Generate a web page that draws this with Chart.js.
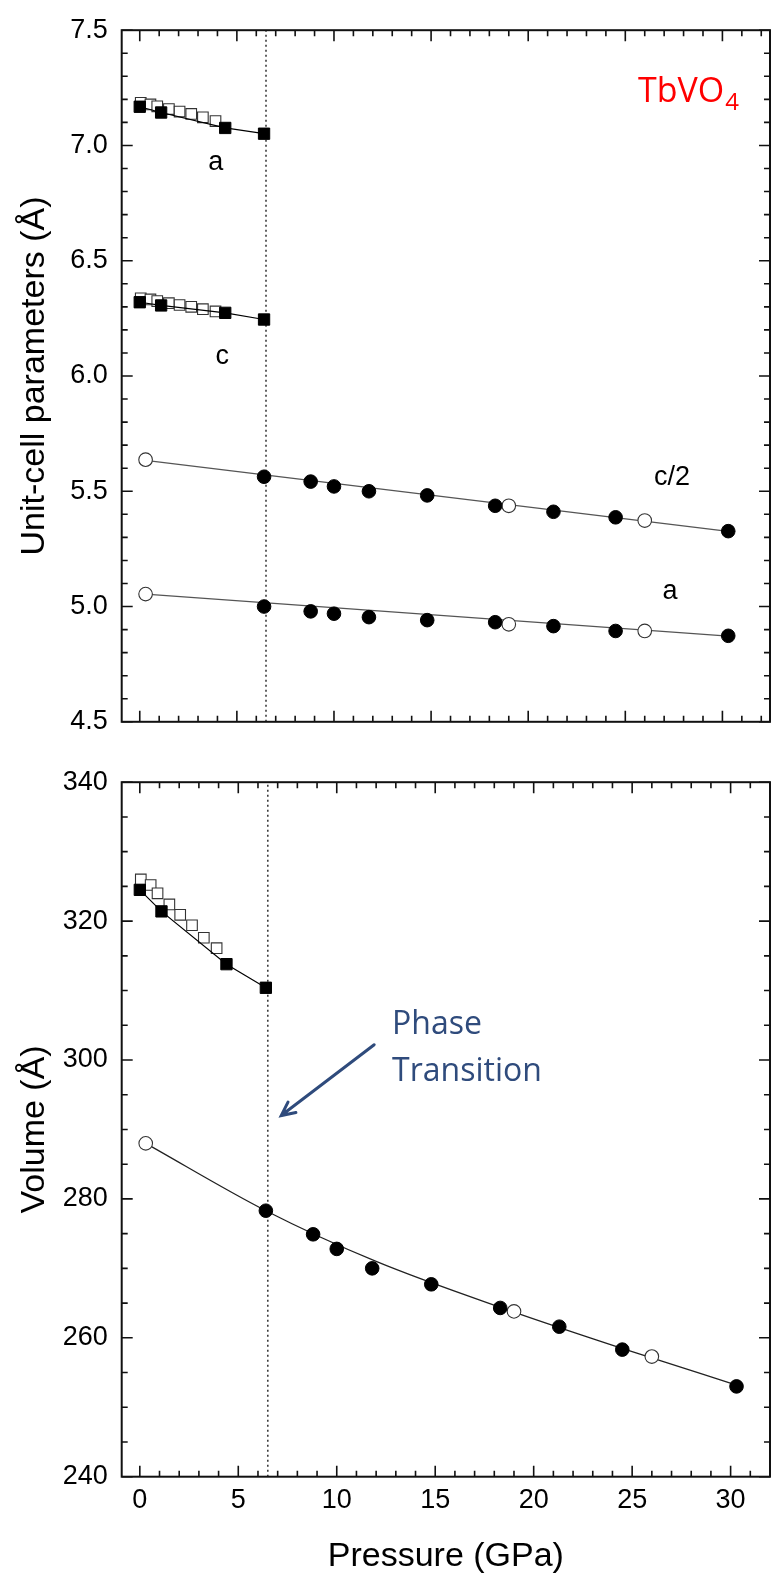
<!DOCTYPE html>
<html>
<head>
<meta charset="utf-8">
<script src="https://cdn.jsdelivr.net/npm/chart.js@4.4.1/dist/chart.umd.min.js"></script>
<style>
    html, body { margin: 0; padding: 0; background: #fff; }
    #wrap { position: relative; width: 779px; height: 1585px; }
    canvas { position: absolute; left: 0; }
    #graph1 { top: 0; }
    #graph2 { top: 752px; }
</style>
</head>
<body>
<div id="wrap">
    <canvas id="graph1" width="779" height="752"></canvas>
    <canvas id="graph2" width="779" height="833"></canvas>
</div>
<script>
// zircon phase (squares), low pressure
const pLowFilled = [0, 1.1, 4.4, 6.4];
const aLowFilled = [7.168, 7.143, 7.076, 7.051];
const cLowFilled = [6.320, 6.306, 6.274, 6.245];
const vLowFilled = [324.5, 321.4, 313.8, 310.4];

const pLowOpen = [0.05, 0.55, 0.9, 1.5, 2.05, 2.65, 3.25, 3.9];
const aLowOpen = [7.185, 7.178, 7.170, 7.158, 7.147, 7.137, 7.122, 7.106];
const cLowOpen = [6.337, 6.332, 6.325, 6.316, 6.308, 6.300, 6.290, 6.280];
const vLowOpen = [326.0, 325.2, 324.0, 322.4, 320.9, 319.4, 317.6, 316.1];

// scheelite phase (circles), high pressure
const pHighFilled = [6.4, 8.8, 10.0, 11.8, 14.8, 18.3, 21.3, 24.5, 30.3];
const c2HighFilled = [5.563, 5.542, 5.521, 5.500, 5.482, 5.437, 5.411, 5.387, 5.327];
const aHighFilled = [5.000, 4.979, 4.969, 4.954, 4.941, 4.932, 4.915, 4.894, 4.873];
const vHighFilled = [278.3, 274.9, 272.8, 270.0, 267.7, 264.3, 261.6, 258.3, 253.0];

const pHighOpen = [0.3, 19.0, 26.0];
const c2HighOpen = [5.637, 5.437, 5.373];
const aHighOpen = [5.054, 4.923, 4.894];
const vHighOpen = [288.0, 263.8, 257.3];

// fitted curves
const pFitLin = [0.3, 30.3];
const c2Fit = [5.634, 5.326];
const aFit = [5.054, 4.872];
const pFitV = [0.3, 6.4, 12, 18.6, 25, 30.3];
const vFit = [288.0, 278.3, 271.0, 264.1, 258.0, 253.2];

const transitionP = 6.5;

const fontOrigin = "'Liberation Sans', Arial, sans-serif";
const fontNote = "'Open Sans', 'Noto Sans', sans-serif";

function pts(xs, ys) {
    return xs.map((x, i) => ({ x: x, y: ys[i] }));
}

function filledSet(xs, ys, style, withLine) {
    return {
        data: pts(xs, ys),
        pointStyle: style,
        pointRadius: style === 'rect' ? 8 : 6.8,
        pointBackgroundColor: '#000',
        pointBorderColor: '#000',
        pointBorderWidth: 1,
        borderColor: '#000',
        borderWidth: 1.2,
        showLine: withLine,
        tension: 0
    };
}

function openSet(xs, ys, style) {
    return {
        data: pts(xs, ys),
        pointStyle: style,
        pointRadius: style === 'rect' ? 7.5 : 6.8,
        pointBackgroundColor: '#fff',
        pointBorderColor: '#333',
        pointBorderWidth: 1.1,
        showLine: false
    };
}

function fitSet(xs, ys, color, smooth) {
    return {
        data: pts(xs, ys),
        pointRadius: 0,
        borderColor: color,
        borderWidth: 1.3,
        showLine: true,
        tension: 0,
        cubicInterpolationMode: smooth ? 'monotone' : 'default'
    };
}

function dottedSet(yMin, yMax) {
    return {
        data: [{ x: transitionP, y: yMin }, { x: transitionP, y: yMax }],
        pointRadius: 0,
        borderColor: '#222',
        borderWidth: 1.4,
        borderDash: [2, 3],
        showLine: true
    };
}

// marco con marcas hacia dentro en los cuatro lados
const frameTicks = {
    id: 'frameTicks',
    afterDatasetsDraw(chart, args, opts) {
        const { ctx, chartArea: ca, scales: { x, y } } = chart;
        ctx.save();
        ctx.strokeStyle = '#111';
        ctx.lineWidth = 1.6;
        ctx.beginPath();
        const xRatio = Math.round(opts.xMajor / opts.xMinor);
        for (let i = Math.ceil(x.min / opts.xMinor); i * opts.xMinor <= x.max + 1e-9; i++) {
            const px = x.getPixelForValue(i * opts.xMinor);
            const len = i % xRatio === 0 ? 11 : 6;
            ctx.moveTo(px, ca.bottom); ctx.lineTo(px, ca.bottom - len);
            ctx.moveTo(px, ca.top); ctx.lineTo(px, ca.top + len);
        }
        const yRatio = Math.round(opts.yMajor / opts.yMinor);
        for (let i = Math.ceil(y.min / opts.yMinor - 1e-9); i * opts.yMinor <= y.max + 1e-9; i++) {
            const py = y.getPixelForValue(i * opts.yMinor);
            const len = i % yRatio === 0 ? 11 : 6;
            ctx.moveTo(ca.left, py); ctx.lineTo(ca.left + len, py);
            ctx.moveTo(ca.right, py); ctx.lineTo(ca.right - len, py);
        }
        ctx.stroke();
        ctx.lineWidth = 2;
        ctx.strokeRect(ca.left, ca.top, ca.right - ca.left, ca.bottom - ca.top);
        ctx.restore();
    }
};

const annotations = {
    id: 'annotations',
    afterDatasetsDraw(chart, args, opts) {
        const { ctx, scales: { x, y } } = chart;
        ctx.save();
        ctx.textBaseline = 'alphabetic';
        (opts.labels || []).forEach(function(l) {
            const px = x.getPixelForValue(l.x);
            const py = y.getPixelForValue(l.y);
            ctx.font = l.font;
            ctx.fillStyle = l.color || '#000';
            ctx.textAlign = l.align || 'left';
            ctx.fillText(l.text, px, py);
            if (l.sub) {
                const w = ctx.measureText(l.text).width;
                ctx.font = l.subFont;
                ctx.textAlign = 'left';
                ctx.fillText(l.sub, px + w + 1, py + l.subDrop);
            }
        });
        if (opts.arrow) {
            const a = opts.arrow;
            const x0 = x.getPixelForValue(a.from[0]), y0 = y.getPixelForValue(a.from[1]);
            const x1 = x.getPixelForValue(a.to[0]), y1 = y.getPixelForValue(a.to[1]);
            const ang = Math.atan2(y1 - y0, x1 - x0);
            ctx.strokeStyle = a.color;
            ctx.lineWidth = 3;
            ctx.lineCap = 'round';
            ctx.beginPath();
            ctx.moveTo(x0, y0);
            ctx.lineTo(x1, y1);
            ctx.moveTo(x1 - 15 * Math.cos(ang - 0.45), y1 - 15 * Math.sin(ang - 0.45));
            ctx.lineTo(x1, y1);
            ctx.lineTo(x1 - 15 * Math.cos(ang + 0.45), y1 - 15 * Math.sin(ang + 0.45));
            ctx.stroke();
        }
        ctx.restore();
    }
};

function generateChartParams() {
    const ctx1 = document.getElementById('graph1').getContext('2d');
    new Chart(ctx1, {
        type: 'scatter',
        data: {
            datasets: [
                filledSet(pLowFilled, aLowFilled, 'rect', true),
                filledSet(pLowFilled, cLowFilled, 'rect', true),
                openSet(pLowOpen, aLowOpen, 'rect'),
                openSet(pLowOpen, cLowOpen, 'rect'),
                filledSet(pHighFilled, c2HighFilled, 'circle', false),
                filledSet(pHighFilled, aHighFilled, 'circle', false),
                openSet(pHighOpen, c2HighOpen, 'circle'),
                openSet(pHighOpen, aHighOpen, 'circle'),
                fitSet(pFitLin, c2Fit, '#555', false),
                fitSet(pFitLin, aFit, '#555', false),
                dottedSet(4.5, 7.5)
            ]
        },
        options: {
            responsive: false,
            animation: false,
            layout: { padding: { left: 0, top: 25, right: 2.3, bottom: 19.3 } },
            scales: {
                x: { type: 'linear', min: -0.93, max: 32.45, display: false },
                y: {
                    type: 'linear',
                    min: 4.5,
                    max: 7.5,
                    grid: { display: false, drawTicks: false },
                    border: { display: false },
                    ticks: {
                        stepSize: 0.5,
                        padding: 14,
                        color: '#000',
                        font: { family: fontOrigin, size: 27 },
                        callback: (v) => v.toFixed(1)
                    },
                    title: {
                        display: true,
                        text: 'Unit-cell parameters (Å)',
                        color: '#000',
                        font: { family: fontOrigin, size: 34 },
                        padding: { top: 14, bottom: 0 }
                    },
                    afterFit: (scale) => { scale.width = 121.7; }
                }
            },
            plugins: {
                legend: { display: false },
                tooltip: { enabled: false },
                frameTicks: { xMajor: 5, xMinor: 1, yMajor: 0.5, yMinor: 0.1 },
                annotations: {
                    labels: [
                        { text: 'TbVO', sub: '4', x: 25.65, y: 7.19, font: '34px ' + fontNote, subFont: '24px ' + fontNote, subDrop: 8, color: '#ff0000' },
                        { text: 'a', x: 3.91, y: 6.894, align: 'center', font: '27px ' + fontOrigin },
                        { text: 'c', x: 4.25, y: 6.052, align: 'center', font: '27px ' + fontOrigin },
                        { text: 'c/2', x: 27.4, y: 5.529, align: 'center', font: '27px ' + fontOrigin },
                        { text: 'a', x: 27.3, y: 5.034, align: 'center', font: '27px ' + fontOrigin }
                    ]
                }
            }
        },
        plugins: [frameTicks, annotations]
    });
}

function generateChartVolume() {
    const ctx2 = document.getElementById('graph2').getContext('2d');
    new Chart(ctx2, {
        type: 'scatter',
        data: {
            datasets: [
                filledSet(pLowFilled, vLowFilled, 'rect', true),
                openSet(pLowOpen, vLowOpen, 'rect'),
                filledSet(pHighFilled, vHighFilled, 'circle', false),
                openSet(pHighOpen, vHighOpen, 'circle'),
                fitSet(pFitV, vFit, '#222', true),
                dottedSet(240, 340)
            ]
        },
        options: {
            responsive: false,
            animation: false,
            layout: { padding: { left: 0, top: 16.3, right: 2.3, bottom: 0 } },
            scales: {
                x: {
                    type: 'linear',
                    min: -0.92,
                    max: 32,
                    grid: { display: false, drawTicks: false },
                    border: { display: false },
                    ticks: {
                        stepSize: 5,
                        includeBounds: false,
                        autoSkip: false,
                        maxRotation: 0,
                        padding: 8,
                        color: '#000',
                        font: { family: fontOrigin, size: 27 }
                    },
                    title: {
                        display: true,
                        text: 'Pressure (GPa)',
                        color: '#000',
                        font: { family: fontOrigin, size: 34 },
                        padding: { top: 0, bottom: 8 }
                    },
                    afterFit: (scale) => { scale.height = 108.3; }
                },
                y: {
                    type: 'linear',
                    min: 240,
                    max: 340,
                    grid: { display: false, drawTicks: false },
                    border: { display: false },
                    ticks: {
                        stepSize: 20,
                        padding: 14,
                        color: '#000',
                        font: { family: fontOrigin, size: 27 }
                    },
                    title: {
                        display: true,
                        text: 'Volume (Å)',
                        color: '#000',
                        font: { family: fontOrigin, size: 34 },
                        padding: { top: 14, bottom: 0 }
                    },
                    afterFit: (scale) => { scale.width = 121.7; }
                }
            },
            plugins: {
                legend: { display: false },
                tooltip: { enabled: false },
                frameTicks: { xMajor: 5, xMinor: 1, yMajor: 20, yMinor: 5 },
                annotations: {
                    labels: [
                        { text: 'Phase', x: 12.81, y: 303.8, font: '32px ' + fontNote, color: '#2f4b7c' },
                        { text: 'Transition', x: 12.81, y: 297.0, font: '32px ' + fontNote, color: '#2f4b7c' }
                    ],
                    arrow: { from: [11.9, 302.2], to: [7.18, 292.0], color: '#2f4b7c' }
                }
            }
        },
        plugins: [frameTicks, annotations]
    });
}

function init() {
    generateChartParams();
    generateChartVolume();
}

document.addEventListener('DOMContentLoaded', function () {
    init();
});
</script>
</body>
</html>
